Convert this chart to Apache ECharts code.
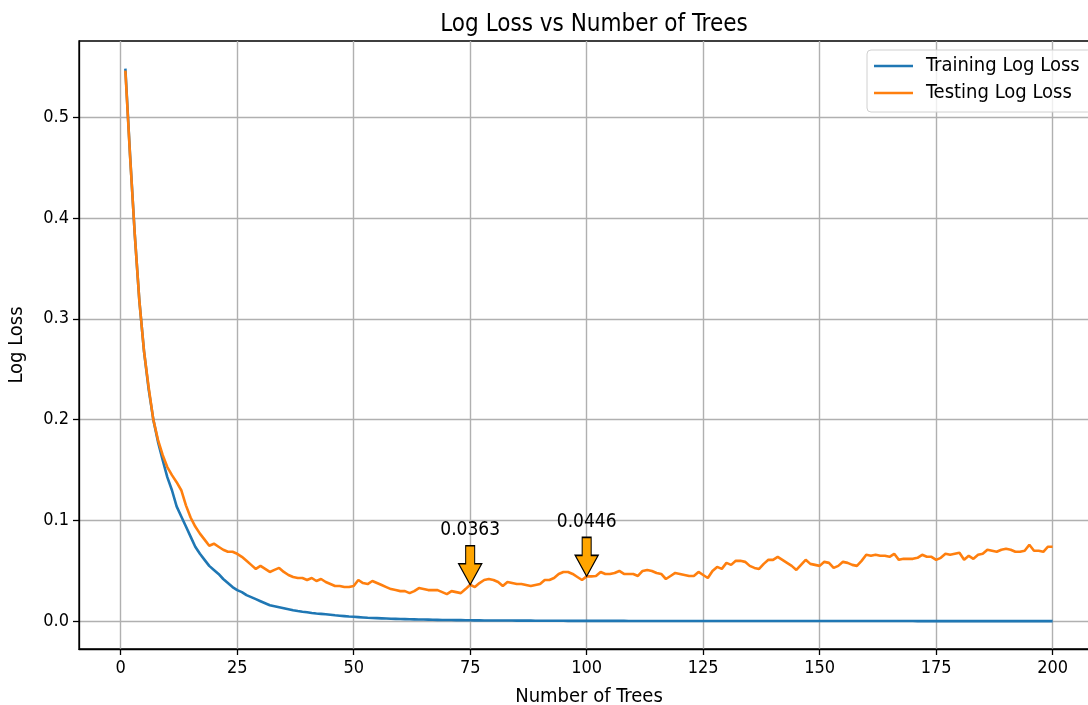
<!DOCTYPE html>
<html>
<head>
<meta charset="utf-8">
<title>Log Loss vs Number of Trees</title>
<script src="https://cdn.jsdelivr.net/npm/echarts@6/dist/echarts.min.js"></script>
<style>
  html, body { margin: 0; padding: 0; background: #fff; }
  #chart { width: 1088px; height: 705px; }
</style>
</head>
<body>
<div id="chart"></div>
<script>
// Log loss per boosting round (1..200 trees)
const trainLoss = [
  0.548, 0.463, 0.385, 0.318, 0.268, 0.230, 0.200, 0.178, 0.160, 0.143,
  0.130, 0.114, 0.104, 0.094, 0.084, 0.074, 0.067, 0.061, 0.055, 0.051,
  0.047, 0.042, 0.038, 0.034, 0.031, 0.029, 0.026, 0.024, 0.022, 0.020,
  0.018, 0.016, 0.015, 0.014, 0.013, 0.012, 0.011, 0.0102, 0.0095, 0.0090,
  0.0083, 0.0078, 0.0074, 0.0070, 0.0065, 0.0060, 0.0056, 0.0052, 0.0048, 0.0045,
  0.0042, 0.0039, 0.0036, 0.0034, 0.0032, 0.0030, 0.0028, 0.0026, 0.0025, 0.0023,
  0.0022, 0.0021, 0.0020, 0.0019, 0.0018, 0.0017, 0.0016, 0.0015, 0.0014, 0.0014,
  0.0013, 0.0012, 0.0012, 0.0011, 0.0011, 0.0010, 0.0010, 0.0009, 0.0009, 0.0009,
  0.0008, 0.0008, 0.0008, 0.0008, 0.0007, 0.0007, 0.0007, 0.0007, 0.0006, 0.0006,
  0.0006, 0.0006, 0.0006, 0.0006, 0.0006, 0.0005, 0.0005, 0.0005, 0.0005, 0.0005,
  0.0005, 0.0005, 0.0005, 0.0005, 0.0005, 0.0005, 0.0005, 0.0005, 0.0004, 0.0004,
  0.0004, 0.0004, 0.0004, 0.0004, 0.0004, 0.0004, 0.0004, 0.0004, 0.0004, 0.0004,
  0.0004, 0.0004, 0.0004, 0.0004, 0.0004, 0.0004, 0.0004, 0.0004, 0.0004, 0.0004,
  0.0004, 0.0004, 0.0004, 0.0004, 0.0004, 0.0003, 0.0003, 0.0003, 0.0003, 0.0003,
  0.0003, 0.0003, 0.0003, 0.0003, 0.0003, 0.0003, 0.0003, 0.0003, 0.0003, 0.0003,
  0.0003, 0.0003, 0.0003, 0.0003, 0.0003, 0.0003, 0.0003, 0.0003, 0.0003, 0.0003,
  0.0003, 0.0003, 0.0003, 0.0003, 0.0003, 0.0003, 0.0003, 0.0003, 0.0003, 0.0003,
  0.0002, 0.0002, 0.0002, 0.0002, 0.0002, 0.0002, 0.0002, 0.0002, 0.0002, 0.0002,
  0.0002, 0.0002, 0.0002, 0.0002, 0.0002, 0.0002, 0.0002, 0.0002, 0.0002, 0.0002,
  0.0002, 0.0002, 0.0002, 0.0002, 0.0002, 0.0002, 0.0002, 0.0002, 0.0002, 0.0002
];

const testLoss = [
  0.546, 0.462, 0.385, 0.318, 0.268, 0.232, 0.200, 0.180, 0.165, 0.153,
  0.145, 0.138, 0.130, 0.115, 0.103, 0.094, 0.087, 0.081, 0.075, 0.077,
  0.074, 0.071, 0.069, 0.069, 0.067, 0.064, 0.060, 0.056, 0.052, 0.055,
  0.052, 0.049, 0.051, 0.053, 0.049, 0.046, 0.044, 0.043, 0.043, 0.041,
  0.043, 0.040, 0.042, 0.039, 0.037, 0.035, 0.035, 0.034, 0.034, 0.035,
  0.041, 0.038, 0.037, 0.040, 0.038, 0.036, 0.034, 0.032, 0.031, 0.030,
  0.030, 0.028, 0.030, 0.033, 0.032, 0.031, 0.031, 0.031, 0.029, 0.027,
  0.030, 0.029, 0.028, 0.032, 0.0363, 0.034, 0.038, 0.041, 0.042, 0.041,
  0.039, 0.035, 0.039, 0.038, 0.037, 0.037, 0.036, 0.035, 0.036, 0.037,
  0.041, 0.041, 0.043, 0.047, 0.049, 0.049, 0.047, 0.044, 0.041, 0.0446,
  0.0446, 0.045, 0.049, 0.047, 0.047, 0.048, 0.050, 0.047, 0.047, 0.047,
  0.045, 0.050, 0.051, 0.050, 0.048, 0.047, 0.042, 0.045, 0.048, 0.047,
  0.046, 0.045, 0.045, 0.049, 0.046, 0.043, 0.050, 0.054, 0.052, 0.058,
  0.056, 0.060, 0.060, 0.059, 0.055, 0.053, 0.052, 0.057, 0.061, 0.061,
  0.064, 0.061, 0.058, 0.055, 0.051, 0.056, 0.061, 0.057, 0.056, 0.055,
  0.059, 0.058, 0.053, 0.055, 0.059, 0.058, 0.056, 0.055, 0.060, 0.066,
  0.065, 0.066, 0.065, 0.065, 0.064, 0.067, 0.061, 0.062, 0.062, 0.062,
  0.063, 0.066, 0.064, 0.064, 0.061, 0.063, 0.067, 0.066, 0.067, 0.068,
  0.061, 0.065, 0.062, 0.066, 0.067, 0.071, 0.070, 0.069, 0.071, 0.072,
  0.071, 0.069, 0.069, 0.070, 0.076, 0.070, 0.070, 0.069, 0.074, 0.074
];

// Tree counts that get a value callout on the testing curve
const annotatedTrees = [75, 100];

// Axis tick positions
const xTicks = [0, 25, 50, 75, 100, 125, 150, 175, 200];
const yTicks = [0.0, 0.1, 0.2, 0.3, 0.4, 0.5];

const FONT = "'DejaVu Sans Condensed', 'DejaVu Sans', sans-serif";
const toPairs = arr => arr.map((v, i) => [i + 1, v]);

// Down-pointing block arrow: shaft on top, head ending in the tip at the bottom
const arrowPath = 'path://M7,0 L16,0 L16,18 L23,18 L11.5,39 L0,18 L7,18 Z';

// Padded ranges so the curves don't touch the frame
const n = trainLoss.length;
const xPad = (n - 1) * 0.05;
const yMax = Math.max(...trainLoss, ...testLoss);
const yPad = yMax * 0.05;

const chart = echarts.init(document.getElementById('chart'), null, { renderer: 'canvas' });

chart.setOption({
  animation: false,
  backgroundColor: '#fff',
  textStyle: { fontFamily: FONT, color: '#000' },
  title: {
    text: 'Log Loss vs Number of Trees',
    left: 589,
    textAlign: 'center',
    top: 8,
    textStyle: { fontFamily: FONT, fontSize: 24, fontWeight: 'normal', color: '#000' }
  },
  legend: {
    orient: 'vertical',
    left: 867,
    top: 50,
    padding: [6, 12, 9, 7],
    itemWidth: 39,
    itemHeight: 2.6,
    itemGap: 7,
    icon: 'rect',
    backgroundColor: 'rgba(255,255,255,0.8)',
    borderColor: '#d0d0d0',
    borderWidth: 1,
    borderRadius: 4,
    textStyle: { fontFamily: FONT, fontSize: 20, color: '#000', padding: [0, 0, 0, 8], lineHeight: 20 },
    data: ['Training Log Loss', 'Testing Log Loss']
  },
  grid: {
    left: 79,
    width: 1020,
    top: 41,
    height: 608,
    outerBoundsMode: 'none',
    show: true,
    borderColor: '#000',
    borderWidth: 1.3,
    containLabel: false
  },
  xAxis: {
    type: 'value',
    min: 1 - xPad,
    max: n + xPad,
    name: 'Number of Trees',
    nameLocation: 'middle',
    nameGap: 38,
    nameTextStyle: { fontFamily: FONT, fontSize: 20, color: '#000' },
    axisLine: { show: true, onZero: false, lineStyle: { color: '#000', width: 1.3 } },
    axisTick: { show: true, length: 6, lineStyle: { color: '#000', width: 1.3 }, customValues: xTicks },
    axisLabel: { fontFamily: FONT, fontSize: 18, color: '#000', margin: 10, customValues: xTicks },
    splitLine: { show: true, lineStyle: { color: '#b0b0b0', width: 1.4 } }
  },
  yAxis: {
    type: 'value',
    min: -yPad,
    max: yMax + yPad,
    name: 'Log Loss',
    nameLocation: 'middle',
    nameGap: 52,
    nameTextStyle: { fontFamily: FONT, fontSize: 20, color: '#000' },
    axisLine: { show: true, onZero: false, lineStyle: { color: '#000', width: 1.3 } },
    axisTick: { show: true, length: 6, lineStyle: { color: '#000', width: 1.3 }, customValues: yTicks },
    axisLabel: {
      fontFamily: FONT, fontSize: 18, color: '#000', margin: 10,
      customValues: yTicks,
      formatter: v => v.toFixed(1)
    },
    splitLine: { show: true, lineStyle: { color: '#b0b0b0', width: 1.4 } }
  },
  series: [
    {
      name: 'Training Log Loss',
      type: 'line',
      data: toPairs(trainLoss),
      symbol: 'none',
      color: '#1f77b4',
      lineStyle: { width: 2.6, color: '#1f77b4' },
      z: 3
    },
    {
      name: 'Testing Log Loss',
      type: 'line',
      data: toPairs(testLoss),
      symbol: 'none',
      color: '#ff7f0e',
      lineStyle: { width: 2.6, color: '#ff7f0e' },
      z: 4,
      markPoint: {
        symbol: arrowPath,
        symbolSize: [23, 39],
        symbolOffset: [0, '-50%'],
        symbolKeepAspect: false,
        itemStyle: { color: '#FFA500', borderColor: '#000', borderWidth: 1.3 },
        label: {
          show: true,
          position: 'top',
          distance: 5,
          fontFamily: FONT,
          fontSize: 19,
          color: '#000',
          formatter: p => p.value.toFixed(4)
        },
        emphasis: { disabled: true },
        data: annotatedTrees.map(t => ({ coord: [t, testLoss[t - 1]], value: testLoss[t - 1] }))
      }
    }
  ]
});
</script>
</body>
</html>
